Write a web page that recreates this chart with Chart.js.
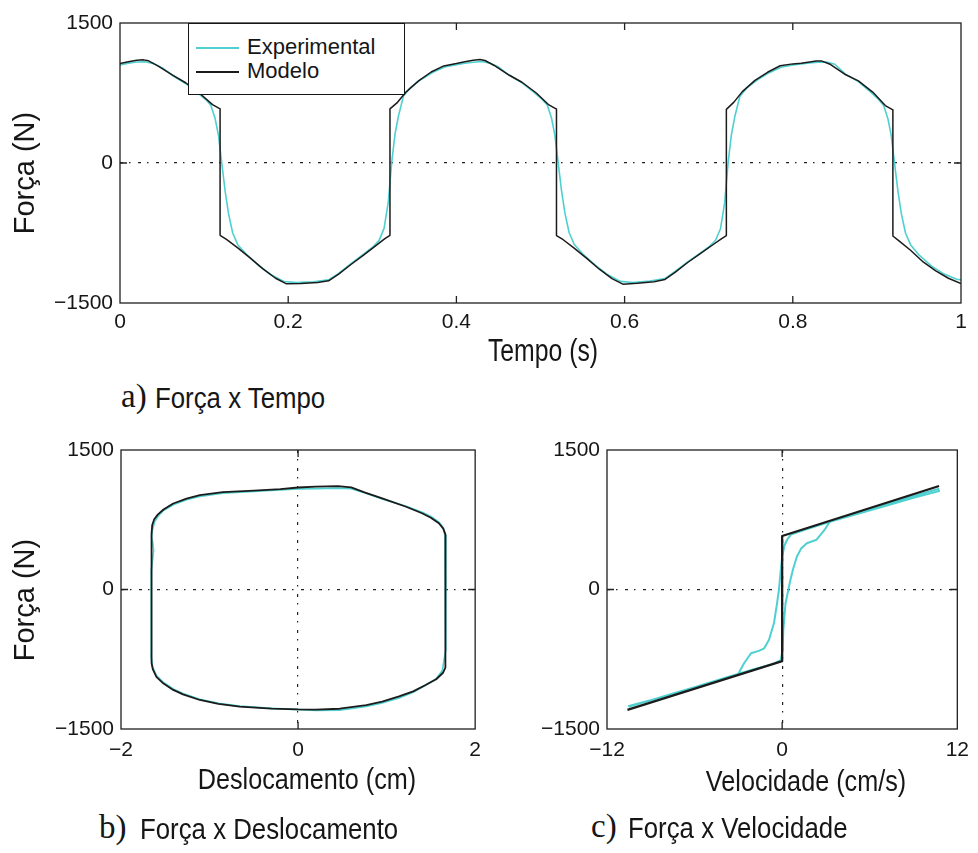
<!DOCTYPE html>
<html lang="pt">
<head>
<meta charset="utf-8">
<title>Força x Tempo, Deslocamento e Velocidade</title>
<script src="https://cdn.jsdelivr.net/npm/chart.js@4.4.1/dist/chart.umd.min.js"></script>
<style>
  html, body { margin: 0; padding: 0; background: #fff; }
  body { position: relative; width: 978px; height: 853px; overflow: hidden;
         font-family: "Liberation Sans", Arial, sans-serif; color: #161616; }
  canvas { position: absolute; }
  #cTempo { left: 0; top: 0; }
  #cDesloc { left: 0; top: 430px; }
  #cVel { left: 490px; top: 430px; }
  .lbl { position: absolute; white-space: nowrap; line-height: 1; }
  .eixo { font-size: 31px; transform: translateX(-50%) scaleX(.8); }
  .eixo2 { font-size: 30px; transform: translateX(-50%) scaleX(.84); }
  .eixoY { font-size: 29px; transform: translate(-50%, -50%) rotate(-90deg); }
  .letra { font-family: "Liberation Serif", "Times New Roman", serif; font-size: 33px; }
  .leg { font-size: 29px; transform-origin: 0 0; transform: scaleX(.89); }
  #legenda { position: absolute; left: 188px; top: 23px; width: 215px; height: 70px;
             border: 1px solid #161616; background: #fff; }
  #legenda .item { position: absolute; left: 0; width: 100%; height: 24px; }
  #legenda .amostra { position: absolute; left: 7px; width: 43px; top: 11px; height: 0; }
  #legenda .nome { position: absolute; left: 58px; top: 0; font-size: 22px; line-height: 1; }
</style>
</head>
<body>
<canvas id="cTempo" width="978" height="340"></canvas>
<canvas id="cDesloc" width="490" height="340"></canvas>
<canvas id="cVel" width="488" height="340"></canvas>

<div class="lbl eixoY" style="left:24px; top:173px;">Força (N)</div>
<div class="lbl eixo" style="left:543px; top:335px;">Tempo (s)</div>
<div class="lbl letra" style="left:121px; top:380px;">a)</div>
<div class="lbl leg" style="left:155px; top:384px;">Força x Tempo</div>

<div class="lbl eixoY" style="left:24px; top:600px;">Força (N)</div>
<div class="lbl eixo2" style="left:307px; top:764px;">Deslocamento (cm)</div>
<div class="lbl letra" style="left:99px; top:811px;">b)</div>
<div class="lbl leg" style="left:140px; top:815px;">Força x Deslocamento</div>

<div class="lbl eixo2" style="left:806px; top:766px;">Velocidade (cm/s)</div>
<div class="lbl letra" style="left:591px; top:810px;">c)</div>
<div class="lbl leg" style="left:628px; top:814px;">Força x Velocidade</div>

<div id="legenda"></div>

<script>
// Séries
const series = ['Experimental', 'Modelo'];

// a) Força x Tempo - modelo
const tempo = [
  0, 0.010, 0.020, 0.028, 0.034, 0.045, 0.063, 0.078, 0.095, 0.110, 0.119, 0.119, 0.127, 0.140, 0.155, 0.170, 0.185,
  0.198, 0.215, 0.235, 0.248, 0.260, 0.275, 0.290, 0.305, 0.315, 0.321, 0.321, 0.330, 0.340, 0.355, 0.370, 0.385,
  0.400, 0.410, 0.420, 0.428, 0.434, 0.445, 0.463, 0.478, 0.495, 0.510, 0.519, 0.519, 0.527, 0.540, 0.555, 0.570, 0.585,
  0.598, 0.615, 0.635, 0.648, 0.660, 0.675, 0.690, 0.705, 0.715, 0.721, 0.721, 0.730, 0.740, 0.755, 0.770, 0.785,
  0.800, 0.810, 0.820, 0.828, 0.834, 0.845, 0.863, 0.878, 0.895, 0.910, 0.919, 0.919, 0.927, 0.940, 0.955, 0.970,
  0.985, 1.000
];
const forcaModelo = [
  1065, 1085, 1100, 1105, 1095, 1040, 940, 860, 745, 625, 580, -775, -820, -910, -1020, -1135, -1235,
  -1295, -1290, -1280, -1262, -1190, -1085, -985, -880, -810, -775, 580, 650, 760, 880, 975, 1040,
  1065, 1085, 1100, 1108, 1098, 1045, 940, 865, 750, 622, 578, -778, -822, -912, -1022, -1138, -1238,
  -1298, -1288, -1272, -1248, -1172, -1066, -972, -876, -812, -778, 575, 652, 765, 885, 972, 1042,
  1062, 1070, 1082, 1092, 1094, 1055, 945, 880, 760, 615, 570, -782, -840, -935, -1060, -1155,
  -1235, -1292
];

// a) Força x Tempo - experimental
const tempoExp = [
  0.000, 0.010, 0.020, 0.030, 0.040, 0.050, 0.063, 0.078, 0.092, 0.102, 0.108, 0.113, 0.117, 0.121, 0.125, 0.129,
  0.134, 0.140, 0.150, 0.165, 0.180, 0.195, 0.210, 0.230, 0.248, 0.260, 0.275, 0.290, 0.300, 0.308, 0.314, 0.319,
  0.323, 0.327, 0.331, 0.337, 0.345, 0.358, 0.372, 0.386,
  0.400, 0.410, 0.420, 0.430, 0.440, 0.450, 0.463, 0.478, 0.492, 0.502, 0.508, 0.513, 0.517, 0.521, 0.525, 0.529,
  0.534, 0.540, 0.550, 0.565, 0.580, 0.595, 0.610, 0.630, 0.648, 0.660, 0.675, 0.690, 0.700, 0.708, 0.714, 0.719,
  0.723, 0.727, 0.731, 0.737, 0.745, 0.758, 0.772, 0.786,
  0.800, 0.810, 0.820, 0.830, 0.840, 0.850, 0.863, 0.878, 0.892, 0.902, 0.908, 0.913, 0.917, 0.921, 0.925, 0.929,
  0.934, 0.940, 0.950, 0.965, 0.980, 0.995, 1.000
];
const forcaExp = [
  1050, 1070, 1082, 1085, 1065, 1022, 935, 852, 755, 680, 620, 480, 300, 0, -300, -540,
  -750, -875, -975, -1100, -1200, -1270, -1282, -1272, -1252, -1182, -1076, -975, -905, -832, -700, -420,
  0, 310, 500, 715, 805, 895, 972, 1028,
  1052, 1068, 1080, 1088, 1070, 1028, 940, 858, 760, 682, 622, 485, 305, 5, -295, -535,
  -745, -870, -972, -1095, -1198, -1268, -1280, -1265, -1238, -1162, -1060, -965, -900, -830, -705, -425,
  -5, 305, 495, 712, 802, 892, 968, 1026,
  1050, 1062, 1072, 1080, 1082, 1058, 950, 872, 765, 680, 615, 478, 298, -5, -300, -540,
  -750, -875, -985, -1105, -1190, -1245, -1252
];

// b) Força x Deslocamento
const deslocModelo = [
  -1.655, -1.648, -1.625, -1.585, -1.52, -1.41, -1.26, -1.11, -0.85, -0.5, -0.2, 0.0, 0.2, 0.45, 0.6, 0.75,
  0.95, 1.22, 1.40, 1.50, 1.59, 1.64, 1.665, 1.668, 1.66, 1.635, 1.56, 1.44, 1.30, 1.14, 0.95, 0.77,
  0.47, 0.2, 0.0, -0.3, -0.66, -0.9, -1.11, -1.3, -1.41, -1.52, -1.60, -1.64, -1.655, -1.655
];
const forcaDeslocModelo = [
  600, 690, 755, 805, 860, 925, 978, 1015, 1048, 1063, 1080, 1097, 1106, 1112, 1098, 1045,
  980, 890, 820, 772, 712, 655, 590, -760, -840, -898, -965, -1027, -1095, -1150, -1205, -1243,
  -1282, -1292, -1290, -1280, -1260, -1230, -1188, -1128, -1080, -1012, -940, -860, -790, 600
];
const deslocExp = [
  -1.655, -1.645, -1.62, -1.58, -1.52, -1.41, -1.26, -1.11, -0.85, -0.5, -0.2, 0.0, 0.2, 0.45, 0.6, 0.75,
  0.95, 1.22, 1.40, 1.50, 1.59, 1.64, 1.66, 1.668, 1.67, 1.665, 1.645, 1.63, 1.56, 1.44, 1.30, 1.14,
  0.95, 0.77, 0.47, 0.2, 0.0, -0.3, -0.66, -0.9, -1.11, -1.3, -1.41, -1.52, -1.60, -1.645, -1.66, -1.66,
  -1.655, -1.632, -1.645, -1.655
];
const forcaDeslocExp = [
  560, 640, 730, 790, 850, 912, 965, 1000, 1035, 1055, 1070, 1082, 1085, 1090, 1085, 1040,
  975, 895, 830, 785, 725, 660, 580, 300, -300, -650, -780, -870, -960, -1030, -1105, -1165,
  -1220, -1258, -1298, -1300, -1292, -1278, -1255, -1225, -1180, -1118, -1070, -1000, -925, -830, -700, -300,
  200, 420, 520, 560
];

// c) Força x Velocidade
const velModelo = [-10.6, 0, 0, 10.75];
const forcaVelModelo = [-1295, -770, 575, 1113];
const velExp = [
  -10.5, -9, -7, -5, -3.5, -3.0, -2.6, -2.13, -1.6, -1.23, -0.9, -0.56, -0.35, -0.22, -0.1, 0.0,
  0.15, 0.34, 0.6, 1.5, 3, 5, 7, 9, 10.7,
  10.75, 9, 7, 5, 3.8, 3.26, 2.9, 2.36, 1.69, 1.3, 1.01, 0.75, 0.56, 0.23, 0.08, 0.03,
  -0.1, -0.6, -2, -4, -6, -8, -10.55
];
const forcaVelExp = [
  -1262, -1190, -1095, -1005, -935, -905, -790, -685, -660, -632, -540, -360, -150, 0, 200, 350,
  470, 535, 590, 640, 715, 815, 915, 1005, 1080,
  1058, 985, 895, 805, 752, 728, 640, 535, 497, 440, 355, 220, 100, -150, -435, -650,
  -760, -800, -860, -955, -1050, -1148, -1255
];

// Eixos
const ticksForca = [-1500, 0, 1500];
const ticksTempo = [0, 0.2, 0.4, 0.6, 0.8, 1];
const ticksDesloc = [-2, 0, 2];
const ticksVel = [-12, 0, 12];

const CIANO = '#4fd0d0';
const PRETO = '#1b1b1b';
const FONTE = '"Liberation Sans", Arial, sans-serif';

const pts = (xs, ys) => xs.map((x, i) => ({ x: x, y: ys[i] }));
const rotulo = v => {
  const s = String(Math.round(Math.abs(v) * 10) / 10);
  return v < 0 ? '\u2212' + s : s;
};

// moldura do gráfico e marcas internas
const moldura = {
  id: 'moldura',
  afterDraw(chart) {
    const { ctx, chartArea: a, scales } = chart;
    ctx.save();
    ctx.strokeStyle = '#202020';
    ctx.lineWidth = 1.3;
    ctx.strokeRect(a.left, a.top, a.right - a.left, a.bottom - a.top);
    const len = 7;
    ctx.beginPath();
    scales.x.ticks.forEach(t => {
      const p = scales.x.getPixelForValue(t.value);
      if (p <= a.left + 1 || p >= a.right - 1) return;
      ctx.moveTo(p, a.bottom); ctx.lineTo(p, a.bottom - len);
      ctx.moveTo(p, a.top); ctx.lineTo(p, a.top + len);
    });
    scales.y.ticks.forEach(t => {
      const p = scales.y.getPixelForValue(t.value);
      if (p <= a.top + 1 || p >= a.bottom - 1) return;
      ctx.moveTo(a.left, p); ctx.lineTo(a.left + len, p);
      ctx.moveTo(a.right, p); ctx.lineTo(a.right - len, p);
    });
    ctx.stroke();
    ctx.restore();
  }
};

function eixo(min, max, valores, zero, tamanho, pad) {
  return {
    type: 'linear', min: min, max: max,
    afterBuildTicks: s => { s.ticks = valores.map(v => ({ value: v })); },
    afterFit: s => { if (s.isHorizontal()) s.height = tamanho; else s.width = tamanho; },
    grid: {
      drawTicks: false, lineWidth: 1.2,
      color: c => (zero && c.tick && c.tick.value === 0) ? '#222' : 'rgba(0,0,0,0)'
    },
    border: { display: false, dash: [3, 6, 1.5, 7.5] },
    ticks: { padding: pad, color: '#161616', font: { family: FONTE, size: 21 }, callback: v => rotulo(v) }
  };
}

function grafico(id, c) {
  return new Chart(document.getElementById(id), {
    type: 'scatter',
    data: {
      datasets: [
        { label: series[0], data: pts(c.xe, c.ye), showLine: true, borderColor: CIANO, backgroundColor: CIANO,
          borderWidth: c.we, pointRadius: 0, borderJoinStyle: 'round', order: 2 },
        { label: series[1], data: pts(c.xm, c.ym), showLine: true, borderColor: PRETO, backgroundColor: PRETO,
          borderWidth: c.wm, pointRadius: 0, borderJoinStyle: 'round', order: 1 }
      ]
    },
    options: {
      responsive: false, animation: false, events: [],
      layout: { padding: c.pad },
      plugins: { legend: { display: false }, tooltip: { enabled: false } },
      scales: {
        x: eixo(c.xmin, c.xmax, c.xticks, c.xzero, c.xh, c.xpad),
        y: eixo(-1500, 1500, ticksForca, true, c.yw, 7)
      }
    },
    plugins: [moldura]
  });
}

const gTempo = grafico('cTempo', {
  xe: tempoExp, ye: forcaExp, xm: tempo, ym: forcaModelo, we: 1.6, wm: 1.5,
  xmin: 0, xmax: 1, xticks: ticksTempo, xzero: false, xh: 37, xpad: 7, yw: 120,
  pad: { top: 23, right: 17, left: 0, bottom: 0 }
});

grafico('cDesloc', {
  xe: deslocExp, ye: forcaDeslocExp, xm: deslocModelo, ym: forcaDeslocModelo, we: 1.7, wm: 1.8,
  xmin: -2, xmax: 2, xticks: ticksDesloc, xzero: true, xh: 41, xpad: 9, yw: 121,
  pad: { top: 20, right: 14, left: 0, bottom: 0 }
});

grafico('cVel', {
  xe: velExp, ye: forcaVelExp, xm: velModelo, ym: forcaVelModelo, we: 2, wm: 2.3,
  xmin: -12, xmax: 12, xticks: ticksVel, xzero: true, xh: 41, xpad: 9, yw: 117,
  pad: { top: 20, right: 15, left: 0, bottom: 0 }
});

// legenda a partir dos conjuntos de dados do gráfico a)
const legenda = document.getElementById('legenda');
gTempo.data.datasets.forEach((d, i) => {
  const item = document.createElement('div');
  item.className = 'item';
  item.style.top = (12 + i * 24) + 'px';
  const amostra = document.createElement('div');
  amostra.className = 'amostra';
  amostra.style.borderTop = '2px solid ' + d.borderColor;
  const nome = document.createElement('div');
  nome.className = 'nome';
  nome.textContent = d.label;
  item.appendChild(amostra);
  item.appendChild(nome);
  legenda.appendChild(item);
});
</script>
</body>
</html>
